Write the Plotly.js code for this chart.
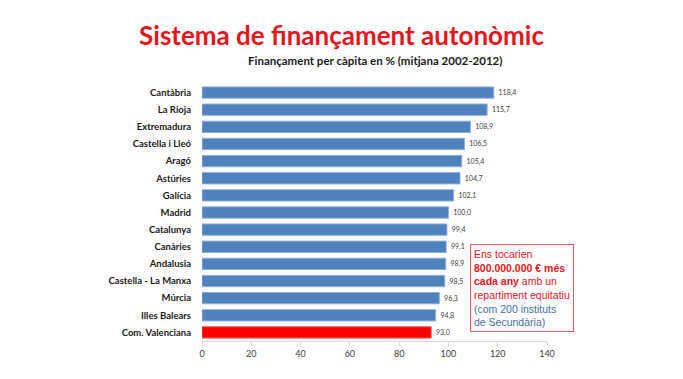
<!DOCTYPE html>
<html><head><meta charset="utf-8">
<script src="https://cdn.plot.ly/plotly-3.0.1.min.js"></script>
<style>html,body{margin:0;padding:0;background:#fff;}#chart{width:683px;height:379px;}</style>
</head><body><div id="chart"></div>
<script>
const regions = ["Cantàbria","La Rioja","Extremadura","Castella i Lleó","Aragó","Astúries","Galícia","Madrid","Catalunya","Canàries","Andalusia","Castella - La Manxa","Múrcia","Illes Balears","Com. Valenciana"];
const values = [118.4,115.7,108.9,106.5,105.4,104.7,102.1,100.0,99.4,99.1,98.9,98.5,96.3,94.8,93.0];
const tickVals = [0,20,40,60,80,100,120,140];
const highlight = "Com. Valenciana";

const colors = regions.map(r => r === highlight ? "#FF0000" : "#4F81BD");
const lineColors = regions.map(r => r === highlight ? "#E06060" : "#8FAFD8");

const data = [{
  type: "bar", orientation: "h",
  y: regions, x: values,
  marker: {color: colors, line: {color: lineColors, width: 1}},
  texttemplate: " %{x:.1f}", textposition: "outside",
  textfont: {family: "Lato, sans-serif", size: 7, color: "#404040"},
  cliponaxis: false, hoverinfo: "none", width: 0.66
}];

const layout = {
  width: 683, height: 379,
  paper_bgcolor: "#ffffff", plot_bgcolor: "#ffffff",
  separators: ",.",
  margin: {l: 202, r: 136, t: 84, b: 38},
  showlegend: false,
  title: {text: "Sistema de finançament autonòmic", x: 0.5, xanchor: "center", y: 0.905, yanchor: "middle",
          font: {family: "Lato, sans-serif", size: 26, color: "#E8141C", weight: "bold"}},
  xaxis: {range: [0, 140], tickvals: tickVals, showgrid: false, zeroline: false,
          showline: true, linecolor: "#D9D9D9", linewidth: 1, ticks: "outside", ticklen: 4, tickcolor: "#D9D9D9",
          tickfont: {family: "Lato, sans-serif", size: 9, color: "#404040"}, fixedrange: true},
  yaxis: {categoryorder: "array", categoryarray: regions.slice().reverse(), autorange: false, range: [-0.5, 14.5],
          showgrid: false, zeroline: false, showline: false, ticks: "", ticklabelstandoff: 10,
          tickfont: {family: "Lato, sans-serif", size: 9.5, color: "#1a1a1a", weight: "bold"}, fixedrange: true},
  annotations: [
    {xref: "paper", yref: "paper", x: 0.5, y: 1.093, xanchor: "center", yanchor: "middle", showarrow: false,
     text: "<b>Finançament per càpita en % (mitjana 2002-2012)</b>",
     font: {family: "Lato, sans-serif", size: 11.5, color: "#1a1a1a"}},
    {xref: "x", yref: "y", x: 108.8, y: 0.02, xanchor: "left", yanchor: "bottom", showarrow: false, align: "left",
     text: "Ens tocarien<br><b>800.000.000 € més</b><br><b>cada any</b> amb un<br>repartiment equitatiu<br><span style='color:#4A6FA5'>(com 200 instituts</span><br><span style='color:#4A6FA5'>de Secundària)</span>",
     font: {family: "Liberation Sans, Arial, sans-serif", size: 10.5, color: "#E8141C"},
     bordercolor: "#E05A60", borderwidth: 1, borderpad: 3, bgcolor: "#ffffff"}
  ]
};
Plotly.newPlot("chart", data, layout, {displayModeBar: false, staticPlot: true});
</script></body></html>
